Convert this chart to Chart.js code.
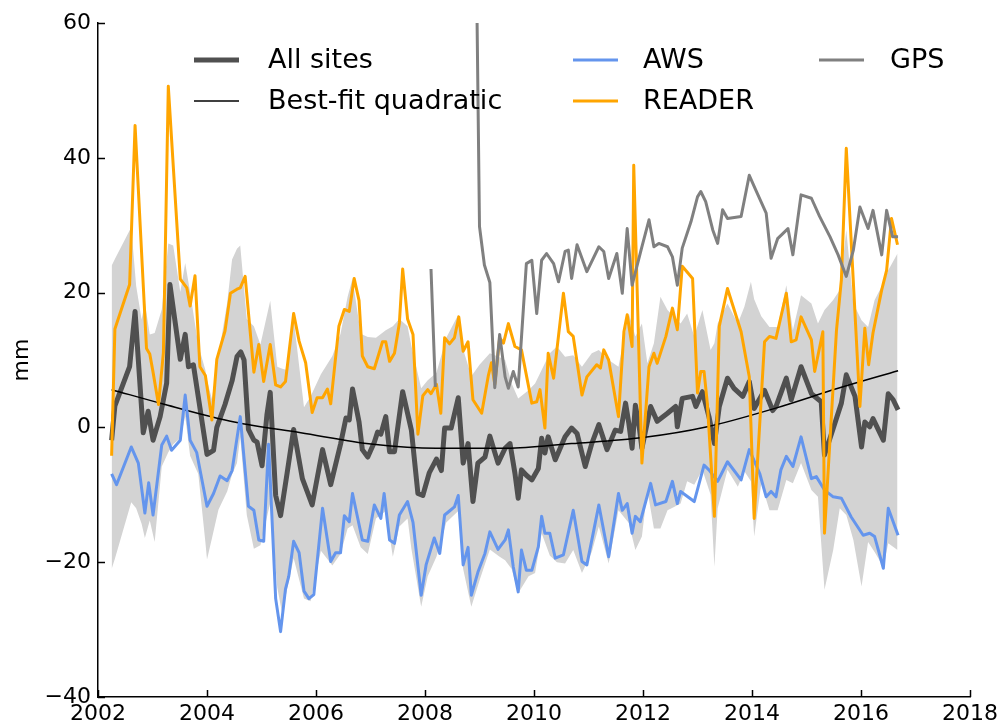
<!DOCTYPE html>
<html>
<head>
<meta charset="utf-8">
<script src="https://cdn.jsdelivr.net/npm/chart.js@4/dist/chart.umd.min.js"></script>
<style>
	body { margin: 0; background: #fff; }
	#wrap { width: 1002px; height: 728px; }
</style>
</head>
<body>
<div id="wrap"><canvas id="myChart" width="1002" height="728"></canvas></div>
<script>
/* Data (decimal years, mm) */
const allYears = [2002.25,2002.31,2002.58,2002.68,2002.83,2002.92,2003.01,2003.14,2003.26,2003.32,
	2003.51,2003.60,2003.66,2003.75,2004.00,2004.12,2004.18,2004.33,2004.46,2004.55,2004.62,2004.68,
	2004.76,2004.86,2004.92,2005.01,2005.10,2005.16,2005.26,2005.35,2005.47,2005.59,2005.75,2005.93,
	2006.12,2006.27,2006.45,2006.55,2006.61,2006.67,2006.79,2006.85,2006.95,2007.07,2007.13,2007.19,
	2007.28,2007.35,2007.44,2007.59,2007.75,2007.87,2007.96,2008.08,2008.21,2008.30,2008.36,2008.48,
	2008.61,2008.70,2008.79,2008.88,2008.97,2009.10,2009.19,2009.34,2009.47,2009.56,2009.65,2009.71,
	2009.77,2009.86,2009.96,2010.08,2010.14,2010.20,2010.26,2010.39,2010.57,2010.69,2010.79,2010.94,
	2011.06,2011.19,2011.34,2011.49,2011.59,2011.68,2011.74,2011.80,2011.86,2011.93,2011.98,2012.14,
	2012.26,2012.45,2012.60,2012.63,2012.72,2012.91,2012.97,2013.09,2013.21,2013.31,2013.40,2013.55,
	2013.67,2013.83,2013.95,2014.04,2014.23,2014.38,2014.44,2014.53,2014.63,2014.72,2014.90,2015.09,
	2015.27,2015.33,2015.46,2015.64,2015.73,2015.89,2016.01,2016.07,2016.16,2016.22,2016.41,2016.50,
	2016.59,2016.68];
const allVals = [-1.9,3.2,9.0,17.2,-0.8,2.4,-1.9,1.6,6.6,21.2,
	10.1,13.8,9.0,9.3,-4.0,-3.4,0.0,3.4,6.9,10.5,11.2,10.0,
	-0.3,-1.9,-2.2,-5.7,1.9,5.2,-10.1,-13.1,-6.8,-0.3,-7.6,-11.5,
	-3.3,-8.5,-2.5,1.4,1.1,5.7,0.8,-3.3,-4.4,-2.2,-0.7,-1.0,
	1.6,-3.6,-3.6,5.3,-0.4,-9.8,-10.1,-6.7,-4.7,-6.4,-0.1,-0.1,
	4.4,-5.3,-2.4,-11.0,-5.3,-4.4,-1.3,-5.3,-3.1,-2.4,-6.8,-10.5,
	-6.3,-7.1,-7.8,-6.1,-1.6,-3.8,-1.4,-4.8,-1.4,-0.1,-0.9,-5.8,
	-2.4,0.4,-3.3,-0.4,-0.6,3.6,0.6,-3.1,3.3,0.1,-3.1,3.1,
	0.9,2.1,3.1,0.1,4.3,4.6,3.1,5.3,1.6,-2.4,3.1,7.3,
	5.8,4.6,6.8,2.8,5.5,2.5,3.1,5.1,7.3,4.1,9.0,5.0,
	3.8,-4.1,-0.9,3.6,7.8,4.6,-2.9,0.8,0.1,1.3,-1.9,5.0,
	4.1,2.6];

const quadYears = [2002.25,2003.23,2004.50,2005.72,2007.05,2008.20,2009.50,2010.69,2012.00,2013.18,2014.45,2015.58,2016.68];
const quadVals = [5.6,3.4,0.8,-0.8,-2.5,-3.1,-3.1,-2.4,-1.5,0.1,2.9,5.8,8.4];

const awsYears = [2002.25,2002.34,2002.61,2002.74,2002.86,2002.93,2003.01,2003.17,2003.26,2003.35,
	2003.51,2003.60,2003.69,2003.81,2004.00,2004.12,2004.24,2004.37,2004.46,2004.61,2004.76,2004.86,
	2004.95,2005.04,2005.13,2005.26,2005.35,2005.44,2005.50,2005.59,2005.69,2005.78,2005.87,2005.96,
	2006.12,2006.27,2006.36,2006.45,2006.52,2006.61,2006.67,2006.85,2006.95,2007.07,2007.19,2007.25,
	2007.35,2007.44,2007.53,2007.68,2007.78,2007.93,2008.02,2008.17,2008.27,2008.36,2008.45,2008.54,
	2008.61,2008.70,2008.79,2008.85,2008.97,2009.10,2009.19,2009.34,2009.47,2009.53,2009.62,2009.71,
	2009.77,2009.86,2009.96,2010.08,2010.14,2010.20,2010.29,2010.39,2010.54,2010.72,2010.88,2010.97,
	2011.19,2011.37,2011.55,2011.62,2011.71,2011.80,2011.86,2011.95,2012.14,2012.23,2012.42,2012.54,
	2012.63,2012.69,2012.94,2013.12,2013.21,2013.37,2013.55,2013.80,2013.95,2014.14,2014.26,2014.35,
	2014.44,2014.53,2014.63,2014.75,2014.90,2015.09,2015.18,2015.33,2015.49,2015.64,2015.82,2016.04,
	2016.16,2016.25,2016.41,2016.50,2016.68];
const awsVals = [-6.9,-8.5,-2.9,-5.3,-12.7,-8.2,-13.0,-2.6,-1.3,-3.4,
	-1.9,4.8,-1.9,-3.7,-11.7,-9.8,-7.2,-7.9,-6.4,1.6,-11.7,-12.3,
	-16.7,-16.9,-2.5,-25.4,-30.3,-24.0,-22.1,-16.9,-18.6,-24.3,-25.4,-24.8,
	-12.0,-19.9,-18.6,-18.6,-13.1,-14.0,-9.8,-16.7,-16.9,-11.5,-13.5,-9.8,
	-16.7,-17.2,-13.0,-11.0,-14.1,-24.9,-20.4,-16.4,-18.7,-13.0,-12.4,-11.8,
	-10.1,-20.4,-17.8,-24.9,-21.5,-18.7,-15.5,-18.1,-16.7,-15.2,-20.7,-24.4,
	-18.2,-21.2,-21.2,-17.7,-13.2,-15.7,-15.7,-19.4,-18.9,-12.3,-19.9,-20.4,
	-11.5,-19.2,-9.8,-12.3,-11.3,-15.7,-13.2,-14.0,-8.3,-11.5,-11.0,-8.0,
	-11.3,-9.5,-11.0,-5.6,-6.3,-8.0,-5.1,-7.8,-3.3,-6.8,-10.3,-9.5,
	-10.3,-6.3,-4.3,-5.8,-1.4,-7.6,-7.3,-9.3,-10.3,-10.5,-13.3,-16.0,
	-15.7,-16.2,-20.9,-12.0,-16.0];

const readerYears = [2002.25,2002.31,2002.58,2002.68,2002.89,2002.95,2003.01,2003.11,2003.20,2003.29,
	2003.51,2003.63,2003.69,2003.78,2003.87,2003.97,2004.09,2004.18,2004.33,2004.43,2004.55,2004.61,
	2004.70,2004.86,2004.95,2005.04,2005.16,2005.26,2005.35,2005.44,2005.59,2005.69,2005.81,2005.93,
	2006.02,2006.12,2006.21,2006.27,2006.42,2006.52,2006.61,2006.70,2006.79,2006.85,2006.95,2007.07,
	2007.22,2007.28,2007.35,2007.44,2007.53,2007.59,2007.68,2007.78,2007.87,2007.96,2008.05,2008.11,
	2008.21,2008.29,2008.36,2008.45,2008.54,2008.62,2008.70,2008.79,2008.88,2009.04,2009.16,2009.22,
	2009.28,2009.37,2009.44,2009.53,2009.65,2009.77,2009.96,2010.05,2010.11,2010.20,2010.26,2010.36,
	2010.54,2010.63,2010.72,2010.88,2010.97,2011.15,2011.22,2011.28,2011.37,2011.55,2011.65,2011.71,
	2011.80,2011.83,2011.98,2012.11,2012.20,2012.26,2012.42,2012.54,2012.63,2012.72,2012.91,2013.00,
	2013.06,2013.12,2013.18,2013.31,2013.40,2013.55,2013.80,2013.95,2014.04,2014.23,2014.32,2014.44,
	2014.63,2014.72,2014.81,2014.90,2015.09,2015.15,2015.30,2015.33,2015.55,2015.64,2015.73,2015.98,
	2016.07,2016.14,2016.22,2016.38,2016.47,2016.56,2016.67];
const readerVals = [-4.2,14.6,21.2,44.8,11.7,10.9,8.2,3.4,11.1,50.6,
	22.0,20.7,18.0,22.5,9.0,7.7,1.1,10.1,14.3,19.9,20.5,20.7,
	22.4,8.2,12.3,6.8,12.3,6.3,6.0,6.8,16.9,12.8,9.6,2.2,
	4.4,4.4,5.7,3.5,15.0,17.5,17.2,22.1,18.8,10.6,9.0,8.7,
	12.7,12.7,9.8,11.0,15.5,23.5,16.1,13.8,-1.0,4.7,5.6,5.0,
	6.4,2.1,13.3,12.4,13.3,16.4,11.3,12.7,4.1,2.1,7.6,9.6,
	6.4,13.3,12.5,15.4,12.0,11.5,3.6,3.8,5.6,-0.1,11.0,7.3,
	19.9,14.2,13.5,4.8,7.5,9.3,8.8,11.5,10.0,1.6,14.2,16.7,
	12.0,38.9,-5.3,9.0,11.0,9.5,13.5,17.7,14.5,23.9,22.1,5.1,
	8.3,8.3,3.6,-13.2,15.0,20.6,14.2,7.5,-13.5,12.7,13.5,13.2,
	19.9,12.7,13.0,16.4,13.0,8.3,14.2,-15.7,14.4,21.9,41.4,3.1,
	14.7,9.3,14.0,20.4,23.3,31.0,27.1];

/* GPS has a gap between the first short record and the main one */
const gpsYears = [2008.11,2008.19,2008.55,2008.95,2009.00,2009.09,2009.19,2009.28,2009.37,2009.47,
	2009.53,2009.62,2009.71,2009.86,2009.96,2010.05,2010.14,2010.23,2010.36,2010.45,2010.57,2010.63,
	2010.69,2010.79,2010.97,2011.19,2011.28,2011.37,2011.52,2011.62,2011.71,2011.80,2011.97,2012.11,
	2012.20,2012.29,2012.45,2012.54,2012.63,2012.72,2012.88,2013.00,2013.06,2013.15,2013.28,2013.37,
	2013.46,2013.55,2013.80,2013.95,2014.07,2014.26,2014.35,2014.47,2014.66,2014.75,2014.90,2015.09,
	2015.24,2015.43,2015.58,2015.73,2015.86,2015.98,2016.13,2016.22,2016.38,2016.47,2016.58,2016.68];
const gpsVals = [23.5,6.0,null,64,29.8,24.1,21.5,5.9,13.8,7.5,
	5.8,8.3,6.0,24.3,24.8,16.9,24.8,25.8,24.3,21.6,26.1,26.3,
	22.1,27.1,23.1,26.8,26.1,22.1,25.8,19.9,29.5,21.1,26.5,30.8,
	26.8,27.3,26.8,25.3,21.1,26.6,30.5,34.2,35.0,33.5,29.3,27.3,
	32.3,31.0,31.3,37.4,35.2,31.8,25.1,28.0,29.5,25.6,34.5,34.0,
	31.3,28.3,25.6,22.4,26.3,32.7,29.5,32.2,25.6,32.2,28.3,28.3];

/* Spread between sites (grey band) */
const bandYears = [2002.25,2002.31,2002.61,2002.70,2002.80,2002.86,2002.95,2003.04,2003.17,2003.29,
	2003.38,2003.51,2003.60,2003.69,2003.84,2003.97,2004.00,2004.09,2004.21,2004.37,2004.46,2004.55,
	2004.61,2004.73,2004.86,2004.98,2005.16,2005.29,2005.38,2005.47,2005.59,2005.78,2005.90,2006.09,
	2006.30,2006.45,2006.58,2006.67,2006.82,2006.95,2007.10,2007.28,2007.41,2007.53,2007.68,2007.75,
	2007.93,2008.05,2008.21,2008.39,2008.61,2008.70,2008.85,2009.00,2009.19,2009.37,2009.47,2009.59,
	2009.71,2009.90,2010.02,2010.14,2010.29,2010.42,2010.57,2010.72,2010.88,2011.06,2011.19,2011.37,
	2011.55,2011.74,2011.86,2011.98,2012.08,2012.20,2012.32,2012.45,2012.57,2012.69,2012.81,2012.94,
	2013.09,2013.24,2013.31,2013.37,2013.55,2013.74,2013.86,2013.98,2014.04,2014.17,2014.32,2014.47,
	2014.63,2014.75,2014.90,2015.09,2015.21,2015.33,2015.49,2015.61,2015.73,2015.86,2016.01,2016.13,
	2016.25,2016.41,2016.50,2016.67];
const bandUpper = [24.0,25.0,29.7,21.0,16.0,18.5,13.8,14.0,17.5,27.3,
	27.0,20.1,24.4,20.1,12.2,8.5,7.0,4.2,10.6,18.5,24.9,26.5,
	27.0,16.1,15.0,12.3,18.8,9.0,8.7,8.5,16.1,3.0,4.6,7.9,
	10.6,13.9,19.4,22.1,13.9,13.4,13.3,14.4,15.0,16.1,15.0,12.1,
	5.8,7.0,8.1,13.3,16.7,11.6,7.6,9.3,11.0,10.4,10.0,6.5,
	4.3,5.5,6.5,8.5,11.0,12.0,10.5,10.7,9.0,11.0,11.5,10.0,
	9.0,16.9,13.5,15.4,9.5,12.5,19.4,17.4,16.4,15.4,16.9,13.5,
	17.4,11.5,12.5,15.4,18.4,15.4,17.9,21.6,19.0,16.5,14.9,14.9,
	21.1,14.4,19.6,18.4,15.4,17.4,18.9,20.4,29.3,18.4,15.9,14.9,
	18.9,21.4,23.3,25.8];
const bandLower = [-21.0,-19.5,-11.1,-12.0,-14.3,-16.4,-13.8,-17.0,-5.8,-3.7,
	-2.5,-1.6,1.6,-4.2,-6.9,-17.0,-19.6,-16.5,-12.2,-9.5,-7.0,-5.3,
	-1.4,-13.0,-18.0,-17.5,-11.2,-23.8,-27.6,-24.0,-19.4,-25.4,-25.8,-18.3,
	-20.5,-18.8,-15.0,-14.5,-17.8,-18.8,-13.5,-12.4,-19.2,-14.7,-13.5,-18.0,
	-26.6,-22.1,-19.2,-14.1,-12.4,-21.0,-26.6,-22.7,-18.1,-19.2,-19.7,-21.0,
	-24.6,-22.1,-21.6,-15.7,-19.0,-20.0,-20.2,-18.2,-21.6,-18.5,-14.7,-20.2,
	-12.3,-14.2,-18.2,-16.2,-9.3,-15.0,-15.0,-12.3,-11.8,-11.3,-8.0,-8.5,
	-6.3,-10.0,-20.7,-12.0,-6.3,-8.8,-6.5,-8.0,-16.2,-8.3,-12.3,-12.3,
	-7.8,-8.3,-5.3,-9.3,-10.3,-24.1,-18.2,-12.0,-13.0,-16.7,-23.6,-17.0,
	-18.5,-20.7,-17.2,-18.2];

const xTickValues = [2002, 2004, 2006, 2008, 2010, 2012, 2014, 2016, 2018];
const yTickValues = [-40, -20, 0, 20, 40, 60];

const legendItems = [
	{label: 'All sites', color: '#505050', width: 5, col: 0, row: 0},
	{label: 'Best-fit quadratic', color: '#000000', width: 1.5, col: 0, row: 1},
	{label: 'AWS', color: '#6495ed', width: 3, col: 1, row: 0},
	{label: 'READER', color: '#ffa500', width: 3, col: 1, row: 1},
	{label: 'GPS', color: '#808080', width: 3, col: 2, row: 0}
];

const FONT = "'DejaVu Sans', sans-serif";

/**
 * Pairs an array of years with an array of values.
 */
function toPoints(xs, ys) {
	var pts = [];
	for (var i = 0; i < xs.length; i++) {
		pts.push({x: xs[i], y: ys[i]});
	}
	return pts;
}

function lineSet(label, xs, ys, color, width, order) {
	return {
		label: label,
		data: toPoints(xs, ys),
		borderColor: color,
		borderWidth: width,
		pointRadius: 0,
		fill: false,
		tension: 0,
		borderJoinStyle: 'round',
		spanGaps: false,
		order: order
	};
}

/* Ticks pointing into the plot, like the original */
const inwardTicks = {
	id: 'inwardTicks',
	afterDraw(chart) {
		const ctx = chart.ctx;
		const area = chart.chartArea;
		const xs = chart.scales.x;
		const ys = chart.scales.y;
		ctx.save();
		ctx.strokeStyle = '#000';
		ctx.lineWidth = 1.5;
		xTickValues.forEach(function(v) {
			var px = Math.round(xs.getPixelForValue(v)) + 0.5;
			ctx.beginPath();
			ctx.moveTo(px, area.bottom);
			ctx.lineTo(px, area.bottom - 7);
			ctx.stroke();
		});
		yTickValues.forEach(function(v) {
			var py = Math.round(ys.getPixelForValue(v)) + 0.5;
			ctx.beginPath();
			ctx.moveTo(area.left, py);
			ctx.lineTo(area.left + 7, py);
			ctx.stroke();
		});
		ctx.restore();
	}
};

/* Three-column legend without frame, drawn over the data */
const plotLegend = {
	id: 'plotLegend',
	afterDatasetsDraw(chart) {
		const ctx = chart.ctx;
		const colLine = [194, 573, 819];
		const colText = [268, 643, 890];
		const rowY = [60, 101];
		ctx.save();
		ctx.font = '27px ' + FONT;
		ctx.textBaseline = 'middle';
		ctx.textAlign = 'left';
		legendItems.forEach(function(item) {
			var y = rowY[item.row];
			ctx.strokeStyle = item.color;
			ctx.lineWidth = item.width;
			ctx.beginPath();
			ctx.moveTo(colLine[item.col], y);
			ctx.lineTo(colLine[item.col] + 45, y);
			ctx.stroke();
			ctx.fillStyle = '#000';
			ctx.fillText(item.label, colText[item.col], y + 1);
		});
		ctx.restore();
	}
};

function drawChart(chartID) {
	const myChart = document.getElementById(chartID).getContext('2d');

	var bandTop = lineSet('band max', bandYears, bandUpper, 'rgba(0,0,0,0)', 0, 10);
	bandTop.fill = '+1';
	bandTop.backgroundColor = '#d3d3d3';
	var bandBottom = lineSet('band min', bandYears, bandLower, 'rgba(0,0,0,0)', 0, 11);

	var quad = lineSet('Best-fit quadratic', quadYears, quadVals, '#000000', 1.5, 4);
	quad.cubicInterpolationMode = 'monotone';

	let chart1 = new Chart(myChart, {
		type: 'line',
		data: {
			datasets: [
				bandTop,
				bandBottom,
				lineSet('All sites', allYears, allVals, '#505050', 5, 5),
				quad,
				lineSet('AWS', awsYears, awsVals, '#6495ed', 3, 3),
				lineSet('READER', readerYears, readerVals, '#ffa500', 3, 2),
				lineSet('GPS', gpsYears, gpsVals, '#808080', 3, 1)
			]
		},
		options: {
			responsive: false,
			animation: false,
			layout: {
				padding: {left: 0, right: 32, top: 23, bottom: 0}
			},
			plugins: {
				legend: {display: false},
				tooltip: {enabled: false}
			},
			scales: {
				x: {
					type: 'linear',
					min: 2002,
					max: 2018,
					grid: {display: false, drawTicks: false},
					border: {display: true, color: '#000', width: 1.5},
					ticks: {
						stepSize: 2,
						padding: 4,
						color: '#000',
						font: {family: FONT, size: 22},
						maxRotation: 0,
						callback: function(v) { return String(v); }
					},
					afterFit: function(scale) { scale.height = 31; }
				},
				y: {
					min: -40,
					max: 60,
					grid: {display: false, drawTicks: false},
					border: {display: true, color: '#000', width: 1.5},
					ticks: {
						stepSize: 20,
						padding: 7,
						color: '#000',
						font: {family: FONT, size: 22},
						callback: function(v) { return String(v).replace('-', '\u2212'); }
					},
					title: {
						display: true,
						text: 'mm',
						color: '#000',
						font: {family: FONT, size: 22},
						padding: {top: 9, bottom: 0}
					},
					afterFit: function(scale) { scale.width = 98; }
				}
			}
		},
		plugins: [inwardTicks, plotLegend]
	});
}

drawChart('myChart');
</script>
</body>
</html>
